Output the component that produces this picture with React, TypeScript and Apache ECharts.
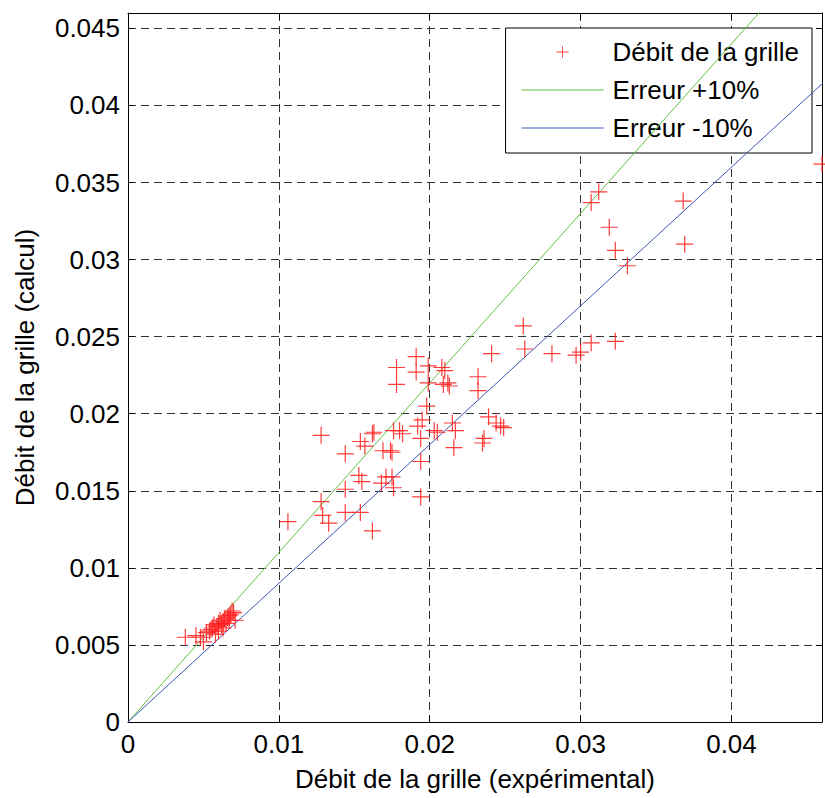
import React, { useEffect, useRef } from "react";
import * as echarts from "echarts";

// Débit de la grille (expérimental) — x values
const experimental = [
  0.0038, 0.0045, 0.0048, 0.005, 0.0052, 0.0054, 0.0055, 0.0056, 0.0057, 0.0058,
  0.0059, 0.006, 0.006, 0.0061, 0.0062, 0.0063, 0.0063, 0.0064, 0.0065, 0.0066,
  0.0067, 0.0067, 0.0068, 0.0069, 0.007, 0.0071,
  0.0106, 0.0128, 0.0129, 0.0133, 0.0128, 0.0144, 0.0144, 0.0144, 0.0154, 0.0153,
  0.0155, 0.0154, 0.0157, 0.0162, 0.0162, 0.0163, 0.0168, 0.0171, 0.0169, 0.0174,
  0.0175, 0.0176, 0.0176, 0.0178, 0.0178, 0.0175, 0.018, 0.0182, 0.0191, 0.0191,
  0.0192, 0.0194, 0.0194, 0.0194, 0.0199, 0.0199, 0.0198, 0.0195, 0.0203, 0.0205,
  0.0208, 0.021, 0.0212, 0.0209, 0.0213, 0.0215, 0.0217, 0.0216, 0.0232, 0.0232,
  0.0236, 0.0235, 0.0239, 0.0241, 0.0244, 0.0247, 0.0249,
  0.0262, 0.0263, 0.0281, 0.0297, 0.03, 0.0307, 0.0323, 0.0307, 0.0312, 0.0319,
  0.0323, 0.0331, 0.0368, 0.0369, 0.046,
];

// Débit de la grille (calcul) — y values
const calcul = [
  0.0055, 0.0056, 0.0055, 0.0052, 0.0058, 0.0059, 0.006, 0.0061, 0.0063, 0.0057,
  0.0062, 0.0064, 0.0059, 0.0066, 0.0063, 0.0065, 0.0061, 0.0067, 0.0064, 0.0068,
  0.0069, 0.0066, 0.007, 0.0072, 0.0071, 0.0066,
  0.013, 0.0143, 0.0134, 0.0129, 0.0186, 0.0136, 0.0151, 0.0174, 0.0136, 0.016,
  0.0156, 0.0182, 0.0179, 0.0124, 0.0187, 0.0188, 0.0155, 0.0159, 0.0176, 0.0176,
  0.0159, 0.0152, 0.0189, 0.023, 0.0219, 0.0175, 0.0189, 0.0187, 0.0237, 0.0227,
  0.0192, 0.0184, 0.0146, 0.0169, 0.0231, 0.022, 0.0205, 0.0196, 0.0189, 0.0188,
  0.023, 0.0228, 0.022, 0.0219, 0.0218, 0.0194, 0.0189, 0.0178, 0.0224, 0.0215,
  0.0184, 0.0181, 0.0198, 0.0239, 0.0194, 0.0192, 0.0191,
  0.0257, 0.0242, 0.0239, 0.0238, 0.024, 0.0246, 0.0247, 0.0337, 0.0344, 0.0321,
  0.0306, 0.0296, 0.0338, 0.031, 0.0362,
];

// Error lines: y = (1 ± 10%) x
const lineX = [0, 0.05];
const plusFactor = 1.1;
const minusFactor = 0.9;

const xTicks = [0, 0.01, 0.02, 0.03, 0.04];
const yTicks = [0, 0.005, 0.01, 0.015, 0.02, 0.025, 0.03, 0.035, 0.04, 0.045];

const FONT = "Liberation Sans, Arial, Helvetica, sans-serif";
const PLUS = "path://M0,9.3H20V10.7H0ZM9.3,0H10.7V20H9.3Z";
const LINE_ICON = "path://M0,0H82V1H0Z";

const fmt = (ticks: number[]) => (v: number) => {
  const hit = ticks.find((t) => Math.abs(t - v) < 1e-9);
  return hit === undefined ? "" : String(hit);
};

export default function App() {
  const ref = useRef<HTMLDivElement>(null);
  useEffect(() => {
    if (!ref.current) return;
    const chart = echarts.init(ref.current, null, { renderer: "svg" });
    const points = experimental.map((x, i) => [x, calcul[i]]);
    const axisCommon = {
      type: "value",
      min: 0,
      max: 0.046,
      axisLine: { show: true, onZero: false, lineStyle: { color: "#000", width: 1 } },
      axisTick: { show: true, inside: true, length: 6, lineStyle: { color: "#000" } },
    };
    chart.setOption({
      animation: false,
      backgroundColor: "#fff",
      grid: { left: 128, right: 2, top: 13, bottom: 76, containLabel: false },
      xAxis: [
        {
          ...axisCommon,
          interval: 0.01,
          position: "bottom",
          name: "Débit de la grille (expérimental)",
          nameLocation: "middle",
          nameGap: 44,
          nameTextStyle: { fontFamily: FONT, fontSize: 26, color: "#000" },
          axisLabel: { fontFamily: FONT, fontSize: 26, color: "#000", margin: 9, formatter: fmt(xTicks) },
          splitLine: { show: true, lineStyle: { color: "#333", type: [8, 5], width: 1 } },
        },
        {
          ...axisCommon,
          interval: 0.01,
          position: "top",
          axisLabel: { show: false },
          splitLine: { show: false },
        },
      ],
      yAxis: [
        {
          ...axisCommon,
          interval: 0.005,
          position: "left",
          name: "Débit de la grille (calcul)",
          nameLocation: "middle",
          nameGap: 90,
          nameTextStyle: { fontFamily: FONT, fontSize: 26, color: "#000" },
          axisLabel: { fontFamily: FONT, fontSize: 26, color: "#000", margin: 8, formatter: fmt(yTicks) },
          splitLine: { show: true, lineStyle: { color: "#333", type: [8, 5], width: 1 } },
        },
        {
          ...axisCommon,
          interval: 0.005,
          position: "right",
          axisLabel: { show: false },
          splitLine: { show: false },
        },
      ],
      legend: {
        orient: "vertical",
        right: 13,
        top: 28,
        backgroundColor: "#fff",
        borderColor: "#000",
        borderWidth: 1,
        borderRadius: 0,
        padding: [11, 13, 12, 16],
        itemWidth: 82,
        itemHeight: 12,
        itemGap: 12,
        textStyle: { fontFamily: FONT, fontSize: 26, color: "#000", padding: [0, 0, 0, 4] },
        data: [
          { name: "Débit de la grille" },
          { name: "Erreur +10%", icon: LINE_ICON },
          { name: "Erreur -10%", icon: LINE_ICON },
        ],
      },
      series: [
        {
          name: "Débit de la grille",
          type: "scatter",
          data: points,
          symbol: PLUS,
          symbolSize: 17,
          clip: false,
          itemStyle: { color: "#ff1a1a", opacity: 0.85 },
          z: 5,
        },
        {
          name: "Erreur +10%",
          type: "line",
          data: lineX.map((x) => [x, x * plusFactor]),
          showSymbol: false,
          symbol: "none",
          lineStyle: { color: "#62c043", width: 1 },
          itemStyle: { color: "#62c043" },
          z: 4,
        },
        {
          name: "Erreur -10%",
          type: "line",
          data: lineX.map((x) => [x, x * minusFactor]),
          showSymbol: false,
          symbol: "none",
          lineStyle: { color: "#3a58b8", width: 1 },
          itemStyle: { color: "#3a58b8" },
          z: 4,
        },
      ],
    });
    return () => chart.dispose();
  }, []);
  return (
    <div
      ref={ref}
      style={{ position: "fixed", left: 0, top: 0, width: 825, height: 798 }}
    />
  );
}
